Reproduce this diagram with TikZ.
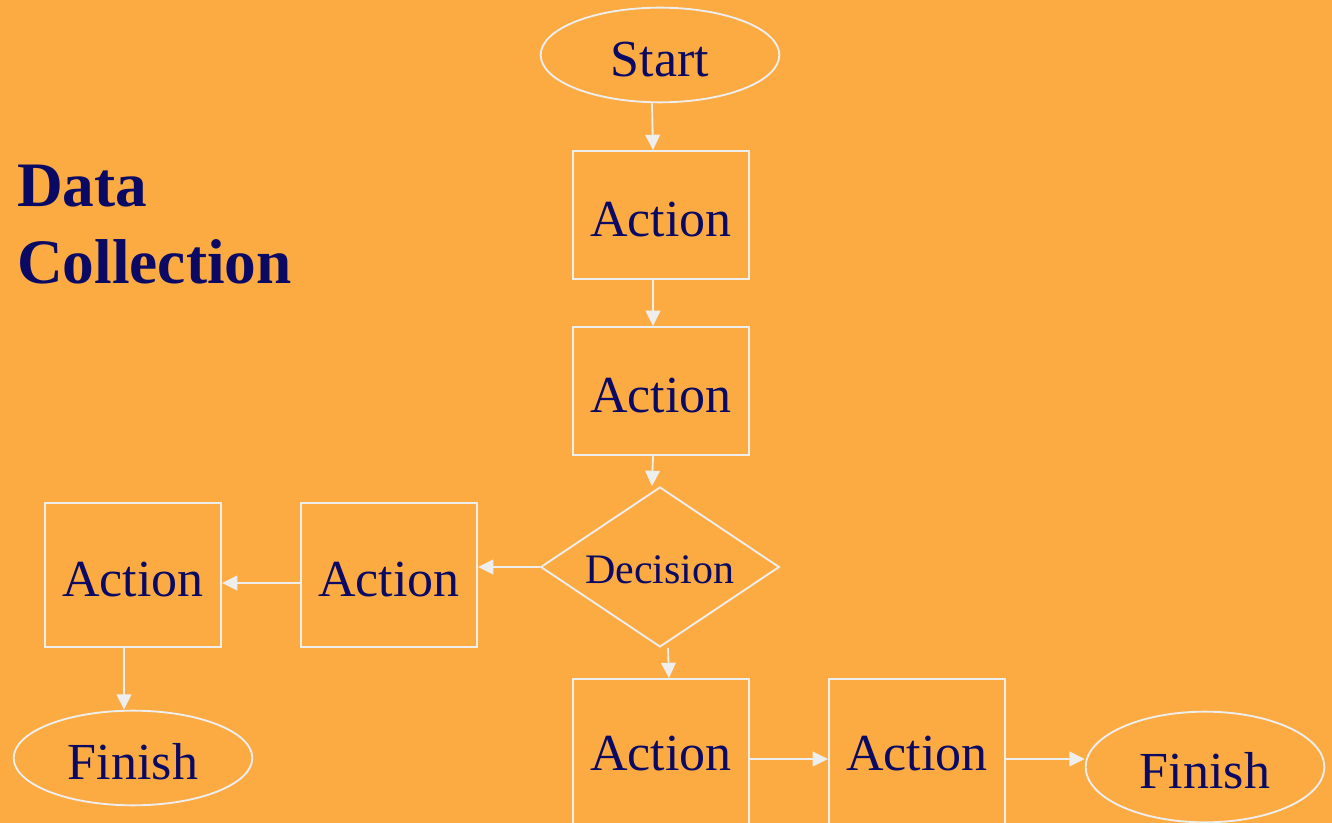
\documentclass[tikz,border=0pt]{standalone}
\usepackage{fontspec}
\setmainfont{Liberation Serif}
\usetikzlibrary{shapes.geometric,arrows.meta}

\definecolor{bgorange}{RGB}{252,170,66}
\definecolor{inkblue}{RGB}{10,10,100}
\definecolor{linegray}{RGB}{238,238,238}

\tikzset{
  box/.style={draw=linegray, line width=1.4pt, rectangle, inner sep=0pt,
    text height=32pt, text depth=0pt,
    minimum width=132pt, font=\fontsize{39}{46}\selectfont, text=inkblue},
  term/.style={draw=linegray, line width=1.4pt, ellipse, inner sep=0pt,
    text height=32pt, text depth=0pt,
    minimum width=179pt, minimum height=71pt, font=\fontsize{39}{46}\selectfont, text=inkblue},
  choice/.style={draw=linegray, line width=1.4pt, diamond, aspect=1.5, inner sep=0pt,
    text height=25pt, text depth=0pt,
    minimum width=179pt, minimum height=120pt, font=\fontsize{31.5}{38}\selectfont, text=inkblue},
  arr/.style={draw=linegray, line width=1.4pt, -{Triangle[length=11.5pt,width=11pt]}}
}

\begin{document}
\begin{tikzpicture}[x=0.75pt,y=-0.75pt]

  \fill[bgorange] (0,0) rectangle (1332,823);
  \useasboundingbox (0,0) rectangle (1332,823);
  \clip (0,0) rectangle (1332,823);

  % title
  \node[anchor=base west, inner sep=0pt, align=left, text=inkblue,
        font=\fontsize{47.5}{58}\selectfont\bfseries] (title) at (17,284) {Data\\Collection};

  % main column
  \node[term] (start) at (660,55) {Start};
  \node[box, minimum height=96pt] (act1) at (661,215) {Action};
  \node[box, minimum height=96pt] (act2) at (661,391) {Action};
  \node[choice] (dec) at (660,567) {Decision};

  % left branch
  \node[box, minimum height=108pt] (act3) at (389,575) {Action};
  \node[box, minimum height=108pt] (act4) at (133,575) {Action};
  \node[term] (fin1) at (133,758) {Finish};

  % bottom branch
  \node[box, minimum height=120pt, text height=17pt] (act5) at (661,759) {Action};
  \node[box, minimum height=120pt, text height=17pt] (act6) at (917,759) {Action};
  \node[term, minimum height=83pt] (fin2) at (1205,767) {Finish};

  \draw[arr] ([xshift=-6pt]start.south) -- ([xshift=-6pt]act1.north);
  \draw[arr] ([xshift=-6pt]act1.south) -- ([xshift=-6pt]act2.north);
  \draw[arr] ([xshift=-6pt]act2.south) -- ([xshift=-6pt]dec.north);
  \draw[arr] (dec.west) -- (dec.west -| act3.east);
  \draw[arr] ([yshift=-6pt]act3.west) -- ([yshift=-6pt]act4.east);
  \draw[arr] ([xshift=-6.75pt]act4.south) -- ([xshift=-6.75pt]fin1.north);
  \draw[arr] ([xshift=6pt]dec.south) -- ([xshift=6pt]act5.north);
  \draw[arr] (act5.east) -- (act6.west);
  \draw[arr] (act6.east) -- (act6.east -| fin2.west);

\end{tikzpicture}
\end{document}
